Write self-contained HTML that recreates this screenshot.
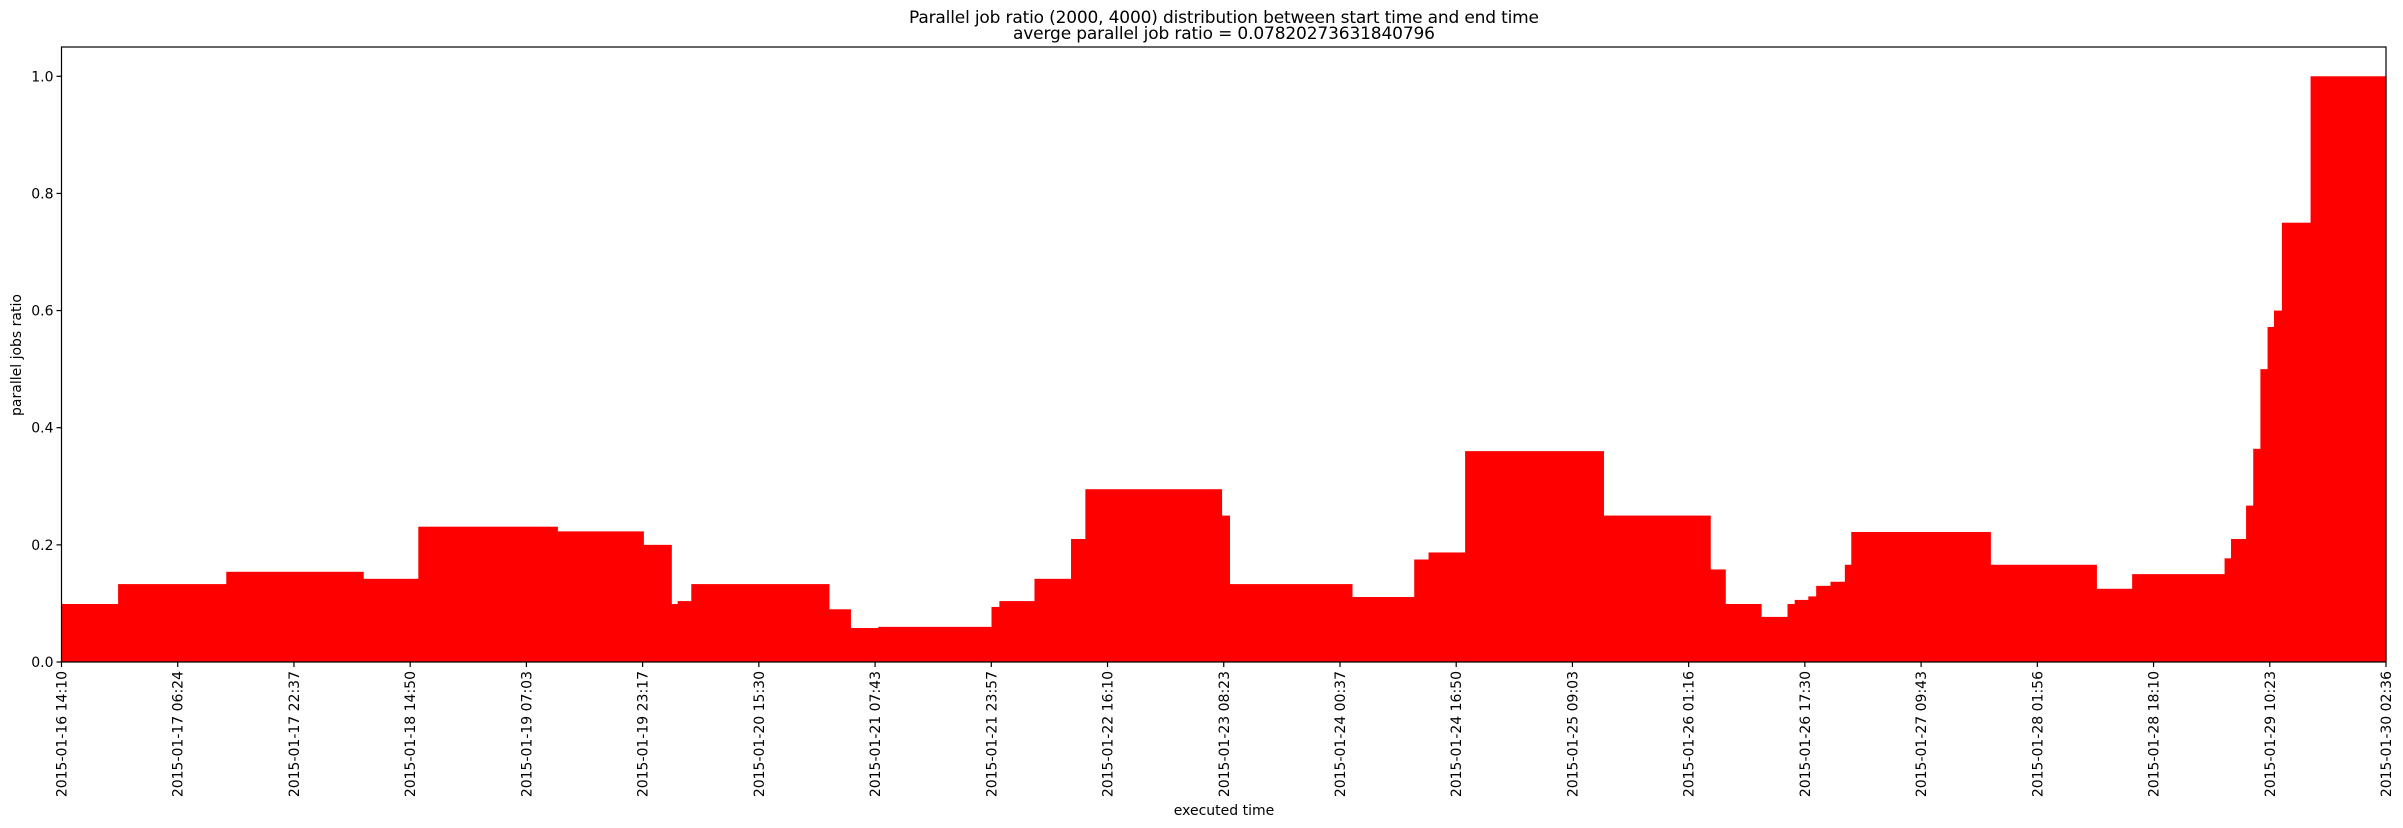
<!DOCTYPE html>
<html><head><meta charset="utf-8"><style>
body{margin:0;background:#fff;}
svg{display:block;font-family:"DejaVu Sans","Liberation Sans",sans-serif;}
</style></head><body>
<svg id="chart" width="2403" height="828" viewBox="0 0 2403 828">
<text x="1224" y="23" text-anchor="middle" font-size="17" textLength="630">Parallel job ratio (2000, 4000) distribution between start time and end time</text>
<text x="1224" y="39" text-anchor="middle" font-size="17" textLength="422">averge parallel job ratio = 0.07820273631840796</text>
<g id="plot"></g>
<text x="1224" y="815" text-anchor="middle" font-size="14">executed time</text>
<text transform="translate(21,355) rotate(-90)" text-anchor="middle" font-size="14">parallel jobs ratio</text>
</svg>
<script>
// step start times in hours since 2015-01-16 14:10
const stepStartHours = [0,7.9,23.0,42.1,49.8,69.2,81.2,85.1,86.0,87.9,107.1,110.1,114.0,129.8,130.9,135.8,140.9,142.9,161.9,163.0,180.1,188.8,190.8,195.9,215.2,230.1,232.2,237.2,240.9,241.9,243.8,244.9,246.9,248.9,249.8,269.2,284.0,289.0,301.9,302.8,304.9,305.9,306.9,307.9,308.8,309.9,313.9];
const stepValues = [0.099,0.133,0.154,0.142,0.231,0.223,0.200,0.099,0.104,0.133,0.090,0.058,0.060,0.094,0.104,0.142,0.210,0.295,0.250,0.133,0.111,0.175,0.187,0.360,0.250,0.158,0.099,0.077,0.099,0.106,0.112,0.130,0.137,0.166,0.222,0.166,0.125,0.150,0.177,0.210,0.267,0.364,0.500,0.572,0.600,0.750,1.000];
const endHour = 324.43;
const xTickLabels = ["2015-01-16 14:10","2015-01-17 06:24","2015-01-17 22:37","2015-01-18 14:50","2015-01-19 07:03","2015-01-19 23:17","2015-01-20 15:30","2015-01-21 07:43","2015-01-21 23:57","2015-01-22 16:10","2015-01-23 08:23","2015-01-24 00:37","2015-01-24 16:50","2015-01-25 09:03","2015-01-26 01:16","2015-01-26 17:30","2015-01-27 09:43","2015-01-28 01:56","2015-01-28 18:10","2015-01-29 10:23","2015-01-30 02:36"];
const yTicks = [0.0,0.2,0.4,0.6,0.8,1.0];
const yMax = 1.05;

const L=61.5,R=2386,T=47,B=662;
const NS='http://www.w3.org/2000/svg';
const g=document.getElementById('plot');
const sx=h=>L+(h/endHour)*(R-L);
const sy=v=>B-(v/yMax)*(B-T);
function mk(tag,attrs){const e=document.createElementNS(NS,tag);for(const k in attrs)e.setAttribute(k,attrs[k]);g.appendChild(e);return e;}

for(let i=0;i<stepStartHours.length;i++){
  const x0=sx(stepStartHours[i]);
  const x1=sx(i+1<stepStartHours.length?stepStartHours[i+1]:endHour);
  const r=mk('rect',{x:x0,y:sy(stepValues[i]),width:x1-x0+0.6,height:B-sy(stepValues[i]),fill:'#ff0000'});
  
  
}
const frame=mk('rect',{x:L,y:T,width:R-L,height:B-T,fill:'none',stroke:'#000','stroke-width':1.2});



yTicks.forEach(v=>{
  const y=sy(v);
  const t=mk('line',{x1:L-5,x2:L,y1:y,y2:y,stroke:'#000','stroke-width':1.2});
  
  
  const tx=mk('text',{x:L-8,y:y+5,'text-anchor':'end','font-size':14});
  tx.textContent=v.toFixed(1);
  
  
});
const n=xTickLabels.length;
xTickLabels.forEach((lab,i)=>{
  const x=L+i*(R-L)/(n-1);
  const t=mk('line',{x1:x,x2:x,y1:B,y2:B+5,stroke:'#000','stroke-width':1.2});
  
  
  const tx=mk('text',{transform:`translate(${x+5},${B+9}) rotate(-90)`,'text-anchor':'end','font-size':14});
  tx.textContent=lab;
  
  
});
</script>
</body></html>
